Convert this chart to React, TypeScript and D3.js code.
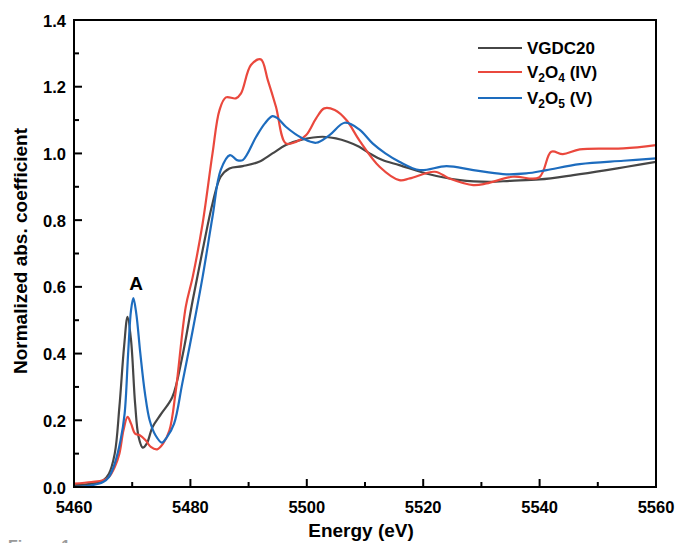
import React from "react";
import * as d3 from "d3";

const vgdc20: [number, number][] = [
  [5460, 0.005], [5463, 0.01], [5465, 0.02], [5466, 0.04], [5467, 0.1], [5467.8, 0.24],
  [5468.6, 0.42], [5469.2, 0.51], [5469.8, 0.44], [5470.5, 0.25], [5471.1, 0.15],
  [5471.8, 0.118], [5472.5, 0.13], [5473.5, 0.18], [5475, 0.22], [5476.9, 0.27],
  [5478.6, 0.39], [5480.4, 0.56], [5482.1, 0.71], [5483.8, 0.85], [5485.2, 0.93],
  [5486.7, 0.955], [5489, 0.962], [5491.8, 0.975], [5494.1, 1.0], [5496.4, 1.025],
  [5499.3, 1.042], [5502.7, 1.05], [5505, 1.045], [5507, 1.035], [5509, 1.02],
  [5510.8, 1.0], [5513, 0.98], [5515.9, 0.965], [5520.5, 0.94], [5526.3, 0.92],
  [5531.4, 0.915], [5535, 0.918], [5540, 0.922], [5545.8, 0.935], [5551.5, 0.95],
  [5555, 0.96], [5560, 0.975],
];

const v2o4: [number, number][] = [
  [5460, 0.01], [5463, 0.015], [5465, 0.02], [5466, 0.03], [5467, 0.06], [5467.8, 0.1],
  [5468.5, 0.17], [5469.2, 0.21], [5469.8, 0.19], [5470.5, 0.16], [5471.3, 0.155],
  [5472.3, 0.14], [5473.2, 0.12], [5474.3, 0.113], [5475.3, 0.13], [5476.4, 0.17],
  [5477.5, 0.29], [5479.2, 0.54], [5480.4, 0.63], [5482.1, 0.79], [5483.8, 1.0],
  [5485, 1.13], [5486.1, 1.168], [5487.8, 1.165], [5488.7, 1.18], [5490.4, 1.265],
  [5492.1, 1.282], [5493.3, 1.22], [5494.7, 1.14], [5496.4, 1.03], [5498.2, 1.035],
  [5499.9, 1.055], [5501.6, 1.105], [5503, 1.135], [5504.8, 1.13], [5506.8, 1.1],
  [5509, 1.04], [5512.5, 0.96], [5515.9, 0.92], [5517.7, 0.925], [5522, 0.945],
  [5524.5, 0.925], [5528.6, 0.905], [5530.9, 0.91], [5535.4, 0.93], [5539.9, 0.928],
  [5542, 1.005], [5544, 0.998], [5546.9, 1.012], [5554.4, 1.015], [5560, 1.025],
];

const v2o5: [number, number][] = [
  [5460, 0.0], [5463, 0.005], [5465, 0.015], [5466, 0.03], [5467, 0.07], [5468, 0.14],
  [5468.7, 0.22], [5469.3, 0.4], [5469.8, 0.53], [5470.2, 0.566], [5470.7, 0.52],
  [5471.4, 0.4], [5472.2, 0.28], [5473, 0.2], [5474, 0.155], [5475.1, 0.133],
  [5476, 0.15], [5477.2, 0.19], [5478.6, 0.31], [5480.4, 0.47], [5482.1, 0.63],
  [5483.8, 0.81], [5485.2, 0.95], [5486.8, 0.995], [5488, 0.98], [5489, 0.98],
  [5491.3, 1.05], [5492.8, 1.09], [5494.1, 1.112], [5495, 1.105], [5496.4, 1.08],
  [5499.3, 1.045], [5501.6, 1.032], [5503.9, 1.055], [5506.5, 1.092], [5509, 1.072],
  [5511.3, 1.03], [5513.5, 1.0], [5515.9, 0.975], [5519.4, 0.95], [5524, 0.962],
  [5528.6, 0.95], [5533.7, 0.938], [5537.7, 0.94], [5541.2, 0.95], [5546.9, 0.968],
  [5554.4, 0.978], [5560, 0.985],
];

const xTicks = [5460, 5480, 5500, 5520, 5540, 5560];
const xMinor = [5470, 5490, 5510, 5530, 5550];
const yTicks = [0, 0.2, 0.4, 0.6, 0.8, 1.0, 1.2, 1.4];
const yMinor = [0.1, 0.3, 0.5, 0.7, 0.9, 1.1, 1.3];

const FONT = "'Liberation Sans', Arial, sans-serif";

export default function App() {
  const W = 680, H = 543;
  const L = 74, R = 656, T = 20, B = 487;
  const x = d3.scaleLinear().domain([5460, 5560]).range([L, R]);
  const y = d3.scaleLinear().domain([0, 1.4]).range([B, T]);
  const line = d3
    .line<[number, number]>()
    .x((d) => x(d[0]))
    .y((d) => y(d[1]))
    .curve(d3.curveCatmullRom.alpha(0.5));

  const series = [
    { data: vgdc20, color: "#464646" },
    { data: v2o4, color: "#ea483d" },
    { data: v2o5, color: "#1d6cbe" },
  ];

  return (
    <svg width={W} height={H} style={{ position: "absolute", left: 0, top: 0 }} fontFamily={FONT}>
      <rect width={W} height={H} fill="#fff" />
      <defs>
        <clipPath id="plot">
          <rect x={L} y={T} width={R - L} height={B - T} />
        </clipPath>
      </defs>
      <g clipPath="url(#plot)">
        {series.map((s, i) => (
          <path key={i} d={line(s.data) || ""} fill="none" stroke={s.color} strokeWidth={2.2} strokeLinejoin="round" />
        ))}
      </g>
      <rect x={L} y={T} width={R - L} height={B - T} fill="none" stroke="#000" strokeWidth={2} />
      {xTicks.map((t) => (
        <g key={"x" + t}>
          <line x1={x(t)} x2={x(t)} y1={B} y2={B - 8} stroke="#000" strokeWidth={2} />
          <text x={x(t)} y={513} textAnchor="middle" fontSize={16.5} fontWeight="bold">{t}</text>
        </g>
      ))}
      {xMinor.map((t) => (
        <line key={"xm" + t} x1={x(t)} x2={x(t)} y1={B} y2={B - 5} stroke="#000" strokeWidth={2} />
      ))}
      {yTicks.map((t) => (
        <g key={"y" + t}>
          <line x1={L} x2={L + 8} y1={y(t)} y2={y(t)} stroke="#000" strokeWidth={2} />
          <text x={66} y={y(t) + 6.5} textAnchor="end" fontSize={16.5} fontWeight="bold">{t.toFixed(1)}</text>
        </g>
      ))}
      {yMinor.map((t) => (
        <line key={"ym" + t} x1={L} x2={L + 5} y1={y(t)} y2={y(t)} stroke="#000" strokeWidth={2} />
      ))}
      <text transform={`translate(27,${251}) rotate(-90)`} textAnchor="middle" fontSize={19} fontWeight="bold">
        Normalized abs. coefficient
      </text>
      <text x={361} y={537} textAnchor="middle" fontSize={19} fontWeight="bold">Energy (eV)</text>
      <text x={8} y={552} fontSize={16} fontWeight="bold" fill="#9a9a9a">Figure 1</text>
      <text x={136} y={290} textAnchor="middle" fontSize={19} fontWeight="bold">A</text>
      {/* legend */}
      <g fontSize={17} fontWeight="bold">
        <line x1={478} x2={522} y1={48} y2={48} stroke={series[0].color} strokeWidth={2.2} />
        <text x={527} y={54}>VGDC20</text>
        <line x1={478} x2={522} y1={72} y2={72} stroke={series[1].color} strokeWidth={2.2} />
        <text x={527} y={78}>
          V<tspan fontSize={12} dy={4}>2</tspan>
          <tspan dy={-4}>O</tspan>
          <tspan fontSize={12} dy={4}>4</tspan>
          <tspan dy={-4}> (IV)</tspan>
        </text>
        <line x1={478} x2={522} y1={98} y2={98} stroke={series[2].color} strokeWidth={2.2} />
        <text x={527} y={104}>
          V<tspan fontSize={12} dy={4}>2</tspan>
          <tspan dy={-4}>O</tspan>
          <tspan fontSize={12} dy={4}>5</tspan>
          <tspan dy={-4}> (V)</tspan>
        </text>
      </g>
    </svg>
  );
}
